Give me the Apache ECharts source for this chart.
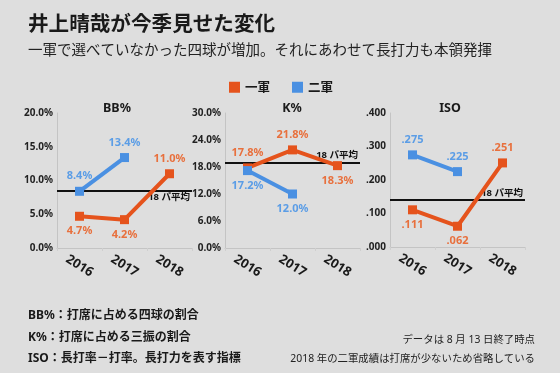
<!DOCTYPE html>
<html><head><meta charset="utf-8">
<script src="https://cdn.jsdelivr.net/npm/echarts@6/dist/echarts.min.js"></script>
<style>html,body{margin:0;padding:0;background:#dedede}#c{width:560px;height:373px}</style>
</head><body><div id="c"></div>
<script>
const years = ['2016', '2017', '2018'];
const bbFirst = [4.7, 4.2, 11.0];
const bbSecond = [8.4, 13.4, null];
const kFirst = [17.8, 21.8, 18.3];
const kSecond = [17.2, 12.0, null];
const isoFirst = [0.111, 0.062, 0.251];
const isoSecond = [0.275, 0.225, null];
const leagueAvg = [8.5, 19.0, 0.143];
const panelTitles = ['BB%', 'K%', 'ISO'];
const avgLabel = '18 パ平均';

const FONT = '"Noto Sans", "Noto Sans CJK JP", sans-serif';
const ORANGE = '#e5531c', BLUE = '#4a90e2';
const ORANGE_T = '#e8703d', BLUE_T = '#5b9de6';

const grids = [
  {left: 57, top: 113, width: 135, height: 135},
  {left: 225, top: 113, width: 135, height: 135},
  {left: 390, top: 113, width: 135, height: 134}
];
const yCfg = [
  {max: 20, interval: 5, fmt: v => v.toFixed(1) + '%'},
  {max: 30, interval: 6, fmt: v => v.toFixed(1) + '%'},
  {max: 0.4, interval: 0.1, fmt: v => '.' + v.toFixed(3).slice(2)}
];
const labelFmt = [
  p => p.value.toFixed(1) + '%',
  p => p.value.toFixed(1) + '%',
  p => '.' + p.value.toFixed(3).slice(2)
];
const avgPos = ['insideEndBottom', 'insideEndTop', 'insideEndTop'];

const xAxis = grids.map((g, i) => ({
  type: 'category', gridIndex: i, data: years,
  axisLine: {lineStyle: {color: '#c4c4c4', width: 1}},
  axisTick: {show: true, lineStyle: {color: '#cfcfcf'}, length: 3},
  axisLabel: {rotate: -32, align: 'center', verticalAlign: 'middle', margin: 18,
    fontSize: 13, fontWeight: 'bold', color: '#1a1a1a', fontFamily: FONT}
}));
const yAxis = grids.map((g, i) => ({
  type: 'value', gridIndex: i, min: 0, max: yCfg[i].max, interval: yCfg[i].interval,
  splitLine: {show: false},
  axisLine: {show: true, lineStyle: {color: '#c4c4c4', width: 1}},
  axisTick: {show: false},
  axisLabel: {formatter: yCfg[i].fmt, fontSize: 10, fontWeight: 'bold', color: '#222', margin: 4, fontFamily: FONT}
}));

const firstPos = [['bottom', 'bottom', 'top'], ['top', 'top', 'bottom'], ['bottom', 'bottom', 'top']];
const secondPos = [['top', 'top', 'top'], ['bottom', 'bottom', 'bottom'], ['top', 'top', 'top']];
const firstData = [bbFirst, kFirst, isoFirst];
const secondData = [bbSecond, kSecond, isoSecond];

function mkData(arr, pos) {
  return arr.map((v, j) => ({value: v, label: {position: pos[j]}}));
}

const series = [];
for (let i = 0; i < 3; i++) {
  series.push({
    name: '一軍', type: 'line', xAxisIndex: i, yAxisIndex: i,
    data: mkData(firstData[i], firstPos[i]),
    symbol: 'rect', symbolSize: 9, z: 3,
    lineStyle: {color: ORANGE, width: 4}, itemStyle: {color: ORANGE},
    label: {show: true, formatter: labelFmt[i], color: ORANGE_T, fontSize: 11, fontWeight: 'bold', fontFamily: FONT, distance: 5},
    markLine: {
      silent: true, symbol: ['none', 'none'], z: 1,
      lineStyle: {color: '#111', width: 2, type: 'solid'},
      label: {show: true, position: avgPos[i], formatter: avgLabel, fontSize: 9.5, fontWeight: 'bold', color: '#111', fontFamily: FONT, distance: 2},
      data: [{yAxis: leagueAvg[i]}]
    }
  });
  series.push({
    name: '二軍', type: 'line', xAxisIndex: i, yAxisIndex: i,
    data: mkData(secondData[i], secondPos[i]),
    symbol: 'rect', symbolSize: 9, z: 3,
    lineStyle: {color: BLUE, width: 4}, itemStyle: {color: BLUE},
    label: {show: true, formatter: labelFmt[i], color: BLUE_T, fontSize: 11, fontWeight: 'bold', fontFamily: FONT, distance: 5}
  });
}

const titleX = [117, 292, 450];
const graphic = [
  {type: 'text', left: 28, top: 13, style: {text: '井上晴哉が今季見せた変化', font: 'bold 20.6px "Noto Sans CJK JP"', fill: '#1a1a1a'}},
  {type: 'text', left: 28, top: 42, style: {text: '一軍で選べていなかった四球が増加。それにあわせて長打力も本領発揮', font: '14.5px "Noto Sans CJK JP"', fill: '#222'}},
  {type: 'text', left: 28, top: 310, style: {text: 'BB%：打席に占める四球の割合', font: 'bold 12px "Noto Sans", "Noto Sans CJK JP"', fill: '#1a1a1a'}},
  {type: 'text', left: 28, top: 332, style: {text: 'K%：打席に占める三振の割合', font: 'bold 12px "Noto Sans", "Noto Sans CJK JP"', fill: '#1a1a1a'}},
  {type: 'text', left: 28, top: 353, style: {text: 'ISO：長打率－打率。長打力を表す指標', font: 'bold 12px "Noto Sans", "Noto Sans CJK JP"', fill: '#1a1a1a'}},
  {type: 'text', right: 25, top: 335, style: {text: 'データは 8 月 13 日終了時点', font: '10.4px "Noto Sans", "Noto Sans CJK JP"', fill: '#222', textAlign: 'right'}},
  {type: 'text', right: 25, top: 354, style: {text: '2018 年の二軍成績は打席が少ないため省略している', font: '10.4px "Noto Sans", "Noto Sans CJK JP"', fill: '#222', textAlign: 'right'}}
];
panelTitles.forEach((t, i) => graphic.push({
  type: 'text', x: titleX[i], y: 108,
  style: {text: t, font: 'bold 12.5px "Noto Sans"', fill: '#1a1a1a', textAlign: 'center', textVerticalAlign: 'middle'}
}));

const chart = echarts.init(document.getElementById('c'));
chart.setOption({
  backgroundColor: '#dedede',
  animation: false,
  legend: {
    data: [{name: '一軍', icon: 'rect'}, {name: '二軍', icon: 'rect'}],
    left: 224, top: 76, itemWidth: 11, itemHeight: 11, itemGap: 22,
    textStyle: {fontSize: 12.5, fontWeight: 'bold', color: '#1a1a1a', fontFamily: '"Noto Sans CJK JP"'}
  },
  grid: grids,
  xAxis: xAxis,
  yAxis: yAxis,
  series: series,
  graphic: graphic
});
</script></body></html>
